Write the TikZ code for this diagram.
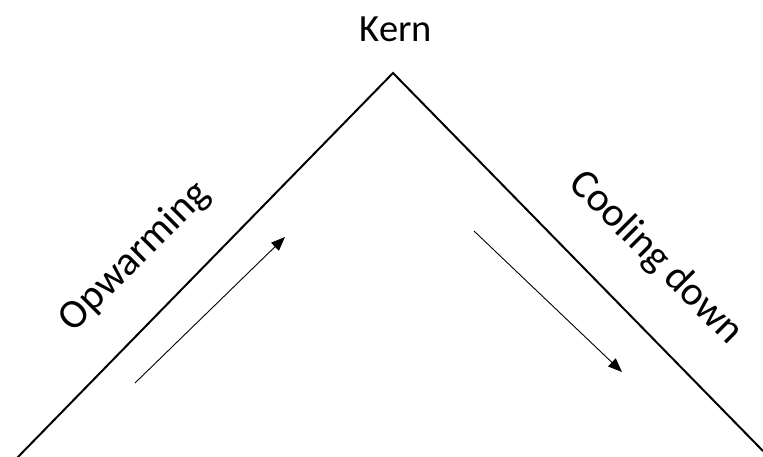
\documentclass[tikz,border=0pt]{standalone}
\usepackage{fontspec}
\setmainfont{Carlito}
\usetikzlibrary{arrows.meta}
\begin{document}
\begin{tikzpicture}[x=1pt,y=-1pt,
  ridge/.style={line width=2pt,line cap=round},
  flow/.style={line width=0.9pt,-{Triangle[length=14pt,width=11pt]}},
  label/.style={font=\fontsize{38.5}{46}\selectfont,inner sep=0pt},
  slant/.style={font=\fontsize{41}{48}\selectfont,inner sep=0pt}]
\useasboundingbox (0,0) rectangle (763,457);
% the curve: rising and falling limbs
\coordinate (bl) at (17,458);
\coordinate (top) at (393,73);
\coordinate (br) at (763,451);
\draw[ridge] (bl) -- (top) -- (br);
% labels
\node[label,anchor=base] (kern) at (396,42) {Kern};
\node[slant,rotate=45] (up) at (135,257) {Opwarming};
\node[slant,rotate=-45] (down) at (656,258) {Cooling down};
% direction arrows
\coordinate (a1) at (135,383);
\coordinate (a2) at (285,237);
\coordinate (b1) at (474,231);
\coordinate (b2) at (622,372);
\draw[flow] (a1) -- (a2);
\draw[flow] (b1) -- (b2);
\end{tikzpicture}
\end{document}
